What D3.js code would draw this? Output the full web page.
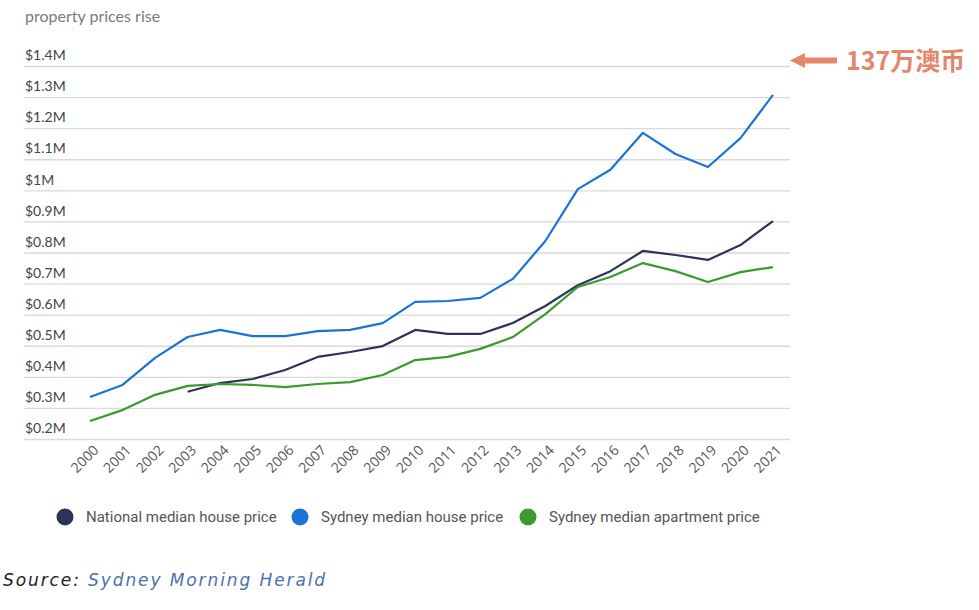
<!DOCTYPE html>
<html>
<head>
<meta charset="utf-8">
<script src="https://cdn.jsdelivr.net/npm/d3@7"></script>
<style>
  body { margin: 0; background: #fff; }
  svg { display: block; }
</style>
</head>
<body>
<svg id="chart" width="979" height="610"></svg>
<script>
const years = [2000,2001,2002,2003,2004,2005,2006,2007,2008,2009,2010,2011,2012,2013,2014,2015,2016,2017,2018,2019,2020,2021];
const nationalHouse = [null,null,null,0.352,0.380,0.393,0.422,0.464,0.480,0.499,0.551,0.538,0.538,0.573,0.628,0.695,0.740,0.805,0.792,0.776,0.824,0.901];
const sydneyHouse = [0.335,0.374,0.461,0.528,0.551,0.531,0.531,0.547,0.551,0.573,0.641,0.644,0.654,0.715,0.837,1.004,1.066,1.185,1.117,1.075,1.168,1.307];
const sydneyApartment = [0.258,0.293,0.342,0.371,0.377,0.374,0.367,0.377,0.383,0.406,0.454,0.464,0.490,0.528,0.602,0.689,0.721,0.766,0.740,0.705,0.737,0.753];
const yTicks = [0.2,0.3,0.4,0.5,0.6,0.7,0.8,0.9,1.0,1.1,1.2,1.3,1.4];
const yTickLabels = ["$0.2M","$0.3M","$0.4M","$0.5M","$0.6M","$0.7M","$0.8M","$0.9M","$1M","$1.1M","$1.2M","$1.3M","$1.4M"];
const seriesNames = ["National median house price","Sydney median house price","Sydney median apartment price"];
const seriesColors = ["#2c3359","#1a74d6","#3a9a2c"];
const title = "property prices rise";
const annotationText = "137万澳币";

const svg = d3.select("#chart");
const x = d3.scalePoint().domain(years).range([90, 773]);
const y = d3.scaleLinear().domain([0.2, 1.4]).range([439, 66]);
const gridLeft = 24, gridRight = 790;

// title
svg.append("text").attr("x", 25).attr("y", 22)
  .attr("font-family", "Lato, sans-serif").attr("font-size", 16)
  .attr("fill", "#7a7a7a").text(title);

// grid lines + y labels
const yAxis = d3.axisLeft(y).tickValues(yTicks)
  .tickSize(-(gridRight - gridLeft))
  .tickFormat((d, i) => yTickLabels[i]);
const gy = svg.append("g").attr("transform", `translate(${gridLeft},0)`);
gy.call(yAxis);
gy.select(".domain").remove();
gy.selectAll(".tick line").attr("stroke", "#d9d9d9").attr("stroke-width", 1.3)
  .attr("x1", 0).attr("x2", gridRight - gridLeft);
gy.selectAll(".tick text")
  .attr("x", 1).attr("dy", "-0.45em").attr("text-anchor", "start")
  .attr("font-family", "Lato, sans-serif").attr("font-size", 14)
  .attr("fill", "#444");

// x labels
const xAxis = d3.axisBottom(x).tickSize(0).tickFormat(d3.format("d"));
const gx = svg.append("g").attr("transform", "translate(0,439)");
gx.call(xAxis);
gx.select(".domain").remove();
gx.selectAll(".tick text")
  .attr("font-family", "'Open Sans', sans-serif").attr("font-size", 14)
  .attr("fill", "#555")
  .attr("text-anchor", "end")
  .attr("dy", 0).attr("y", 0)
  .attr("transform", "translate(9,12) rotate(-45)");

// lines
const allSeries = [nationalHouse, sydneyHouse, sydneyApartment];
const line = d3.line()
  .defined(d => d.v !== null)
  .x(d => x(d.year)).y(d => y(d.v));
allSeries.forEach((s, i) => {
  svg.append("path")
    .datum(years.map((yr, j) => ({year: yr, v: s[j]})))
    .attr("fill", "none").attr("stroke", seriesColors[i])
    .attr("stroke-width", 2.2).attr("stroke-linejoin", "round")
    .attr("d", line);
});

// legend
const legendX = [65, 300, 528];
const leg = svg.append("g");
seriesNames.forEach((n, i) => {
  leg.append("circle").attr("cx", legendX[i]).attr("cy", 517).attr("r", 8.5).attr("fill", seriesColors[i]);
  leg.append("text").attr("x", legendX[i] + 21).attr("y", 522)
    .attr("font-family", "Roboto, sans-serif").attr("font-size", 15)
    .attr("fill", "#555").text(n);
});

// source
const src = svg.append("text").attr("x", 3).attr("y", 586)
  .attr("font-family", "'DejaVu Sans', sans-serif").attr("font-style", "italic")
  .attr("font-size", 17).attr("letter-spacing", 1.9);
src.append("tspan").attr("fill", "#222").text("Source: ");
src.append("tspan").attr("fill", "#4a72a8").text("Sydney Morning Herald");

// annotation arrow
const ac = "#e3866a";
svg.append("rect").attr("x", 803).attr("y", 57.5).attr("width", 34).attr("height", 6).attr("fill", ac);
svg.append("path").attr("d", "M790,60.5 L805,53 L805,68 Z").attr("fill", ac);
svg.append("text").attr("x", 846).attr("y", 70)
  .attr("font-family", "'Noto Sans CJK SC', sans-serif").attr("font-weight", "bold")
  .attr("font-size", 25).attr("fill", ac).text(annotationText);
</script>
</body>
</html>
